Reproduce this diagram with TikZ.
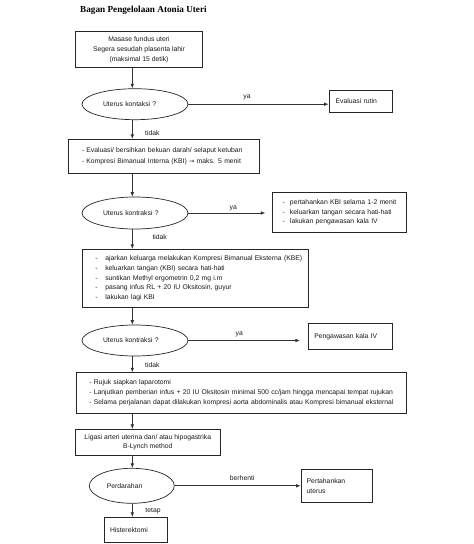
\documentclass[tikz,border=0pt]{standalone}
\usepackage{fontspec}
\setmainfont{Liberation Sans}
\newfontfamily\titlefont{Liberation Serif}
\newfontfamily\symfont{DejaVu Sans}
\usetikzlibrary{arrows.meta,shapes.geometric}
\newcommand\itm[2]{\mbox{\makebox[#1][l]{-}#2}}
\begin{document}
\begin{tikzpicture}[x=1pt,y=-1pt,
 every node/.style={font=\fontsize{6.8}{9.7}\selectfont, text=black!90},
 box/.style={draw=black!85, line width=0.8pt, rectangle, inner sep=0pt},
 decision/.style={draw=black!85, line width=0.7pt, ellipse, inner sep=0pt,
   minimum width=106pt, minimum height=31pt, text width=64pt, align=left},
 arr/.style={draw=black!80, line width=0.7pt, -{Latex[length=4.5pt,width=3.6pt]}},
 lbl/.style={inner sep=0pt}
]
\useasboundingbox[fill=white] (0,0) rectangle (474,544);
\coordinate (sp) at (132.3,0);

\node[inner sep=0pt, anchor=west, font=\titlefont\bfseries\fontsize{9.2}{11}\selectfont, text=black] (title) at (80,10) {Bagan Pengelolaan Atonia Uteri};

\node[box, minimum width=126.6pt, minimum height=36pt, align=center,
  font=\fontsize{6.8}{10}\selectfont] (b1) at (139,49.7)
  {Masase fundus uteri\\Segera sesudah plasenta lahir\\(maksimal 15 detik)};

\node[decision] (d1) at (135,104.2) {Uterus kontaksi ?};

\node[box, minimum width=63pt, minimum height=21.3pt, text width=49.6pt, align=left] (ev) at (360.5,101.3) {\mbox{Evaluasi rutin}};

\node[box, minimum width=190.7pt, minimum height=34pt, text width=163.3pt, align=left,
  font=\fontsize{6.8}{11}\selectfont] (b2) at (163.7,156.3)
  {\itm{4.3pt}{Evaluasi/ bersihkan bekuan darah/ selaput ketuban}\\
   \itm{4.3pt}{Kompresi Bimanual Interna (KBI) {\symfont\fontsize{6.3}{8}\selectfont →} maks. 5 menit}};

\node[decision, minimum height=32pt] (d2) at (135,213) {Uterus kontraksi ?};

\node[box, minimum width=134pt, minimum height=40.7pt, text width=114pt, align=left,
  font=\fontsize{6.8}{9.3}\selectfont] (b3) at (339.7,212.3)
  {\itm{7.3pt}{pertahankan KBI selama 1-2 menit}\\
   \itm{7.3pt}{keluarkan tangan secara hati-hati}\\
   \itm{7.3pt}{lakukan pengawasan kala IV}};

\node[box, minimum width=226pt, minimum height=58pt, text width=200pt, align=left] (b4) at (195.3,278.3)
  {\itm{10pt}{ajarkan keluarga melakukan Kompresi Bimanual Eksterna (KBE)}\\
   \itm{10pt}{keluarkan tangan (KBI) secara hati-hati}\\
   \itm{10pt}{suntikan Methyl ergometrin 0,2 mg i.m}\\
   \itm{10pt}{pasang infus RL + 20 IU Oksitosin, guyur}\\
   \itm{10pt}{lakukan lagi KBI}};

\node[decision] (d3) at (135,340.5) {Uterus kontraksi ?};

\node[box, minimum width=83.7pt, minimum height=26pt, text width=71.7pt, align=left] (b5) at (350.2,336.3) {\mbox{Pengawasan kala IV}};

\node[box, minimum width=330.7pt, minimum height=40.6pt, text width=304pt, align=left,
  font=\fontsize{6.8}{9.8}\selectfont] (b6) at (241.3,393)
  {\mbox{- Rujuk siapkan laparotomi}\\
   \mbox{- Lanjutkan pemberian infus + 20 IU Oksitosin minimal 500 cc/jam hingga mencapai tempat rujukan}\\
   \mbox{- Selama perjalanan dapat dilakukan kompresi aorta abdominalis atau Kompresi bimanual eksternal}};

\node[box, minimum width=144.3pt, minimum height=25.7pt, align=center,
  font=\fontsize{6.8}{9.4}\selectfont] (b7) at (147.8,442.2)
  {Ligasi arteri uterina dan/ atau hipogastrika\\B-Lynch method};

\node[decision, minimum width=85pt, minimum height=35pt, text width=50pt] (d4) at (131.8,485.8) {Perdarahan};

\node[box, minimum width=71pt, minimum height=33.4pt, text width=59.6pt, align=left,
  font=\fontsize{6.8}{9.3}\selectfont] (b8) at (336.5,486) {Pertahankan\\uterus};

\node[box, minimum width=63pt, minimum height=25.4pt, text width=51.6pt, align=left] (b9) at (135.8,530) {\mbox{Histerektomi}};

% labels
\node[lbl] (ya1) at (247,97) {ya};
\node[lbl] (td1) at (152.3,132.7) {tidak};
\node[lbl] (ya2) at (233.3,208.7) {ya};
\node[lbl] (td2) at (159.7,236.7) {tidak};
\node[lbl] (ya3) at (239.3,334) {ya};
\node[lbl] (td3) at (152.3,365.3) {tidak};
\node[lbl] (bh) at (242.2,477.7) {berhenti};
\node[lbl] (tt) at (153,510.7) {tetap};

% connectors
\draw[arr] (b1.south -| sp) -- (d1.north -| sp);
\draw[arr] (d1.east) -- (d1.east -| ev.west);
\draw[arr] (d1.south -| sp) -- (b2.north -| sp);
\draw[arr] (b2.south -| sp) -- (d2.north -| sp);
\draw[arr, shorten >=7pt] (d2.east) -- (d2.east -| b3.west);
\draw[arr] (d2.south -| sp) -- (b4.north -| sp);
\draw[arr] (b4.south -| sp) -- (d3.north -| sp);
\draw[arr, shorten >=8pt] (d3.east) -- (d3.east -| b5.west);
\draw[arr] (d3.south -| sp) -- (b6.north -| sp);
\draw[arr] (b6.south -| sp) -- (b7.north -| sp);
\draw[arr] (b7.south -| sp) -- (d4.north -| sp);
\draw[arr] (d4.east) -- (d4.east -| b8.west);
\draw[arr] (d4.south -| sp) -- (b9.north -| sp);
\end{tikzpicture}
\end{document}
